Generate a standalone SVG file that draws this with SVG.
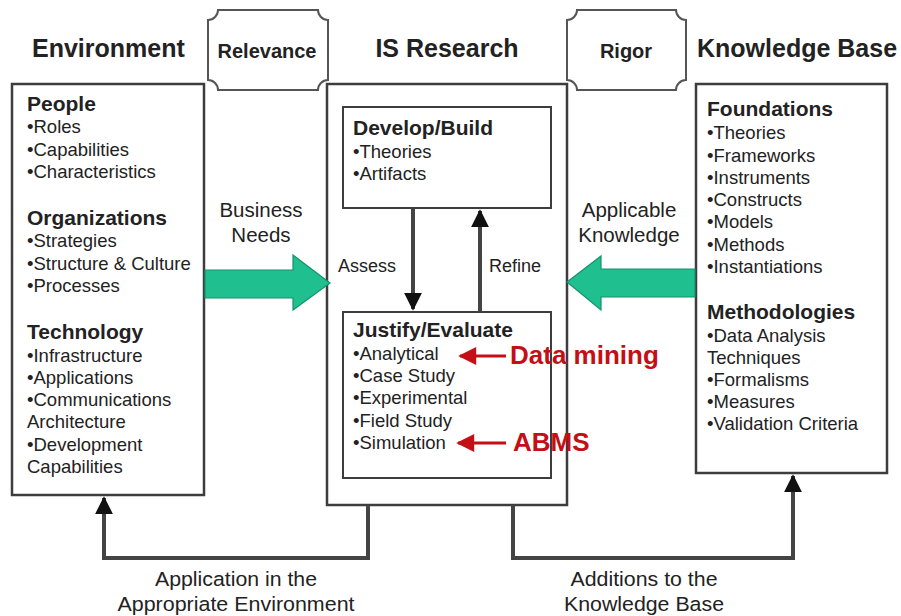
<svg xmlns="http://www.w3.org/2000/svg" width="901" height="616" viewBox="0 0 901 616">
  <defs>
    <style>
      text { font-family: "Liberation Sans", Arial, sans-serif; fill: #222; }
      .title { font-size: 25px; font-weight: bold; }
      .tag { font-size: 20px; font-weight: bold; }
      .head { font-size: 21px; font-weight: bold; }
      .item { font-size: 18.5px; }
      .lbl { font-size: 20.5px; }
      .step { font-size: 18px; }
      .foot { font-size: 20.5px; }
      .note { font-size: 26px; font-weight: bold; fill: #c40f16; }
      .box { fill: #fff; stroke: #3d3d3d; stroke-width: 2.5; }
      .inner { fill: #fff; stroke: #3d3d3d; stroke-width: 2; }
      .notch { fill: #fff; stroke: #555; stroke-width: 2; }
      .flow { fill: #1fbf8f; stroke: #13946b; stroke-width: 1.2; }
      .link { fill: none; stroke: #444; stroke-width: 4; }
      .red { fill: none; stroke: #c40f16; stroke-width: 3; }
    </style>
    <marker id="tip" viewBox="0 0 10 10" refX="9" refY="5" markerWidth="4.5" markerHeight="4.5" markerUnits="strokeWidth" orient="auto">
      <path d="M0,0 L10,5 L0,10 Z" fill="#111"/>
    </marker>
    <marker id="redtip" viewBox="0 0 10 10" refX="9" refY="5" markerWidth="7" markerHeight="6" markerUnits="strokeWidth" orient="auto">
      <path d="M0,0 L10,5 L0,10 Z" fill="#c40f16"/>
    </marker>
  </defs>

  <!-- column titles -->
  <g id="titles">
    <text class="title" x="32" y="57">Environment</text>
    <text class="title" x="447" y="57" text-anchor="middle">IS Research</text>
    <text class="title" x="697" y="57">Knowledge Base</text>
  </g>

  <!-- notched tags -->
  <g id="relevance">
    <path class="notch" d="M218,10 H318 A10,10 0 0 0 328,20 V80 A10,10 0 0 0 318,90 H218 A10,10 0 0 0 208,80 V20 A10,10 0 0 0 218,10 Z"/>
    <text class="tag" x="267" y="58" text-anchor="middle">Relevance</text>
  </g>
  <g id="rigor">
    <path class="notch" d="M577,10 H676 A10,10 0 0 0 686,20 V80 A10,10 0 0 0 676,90 H577 A10,10 0 0 0 567,80 V20 A10,10 0 0 0 577,10 Z"/>
    <text class="tag" x="626" y="58" text-anchor="middle">Rigor</text>
  </g>

  <!-- environment -->
  <g id="environment">
    <rect class="box" x="12" y="84" width="192" height="411"/>
    <text class="head" x="27" y="111">People</text>
    <text class="item" x="27" y="133">•Roles</text>
    <text class="item" x="27" y="156">•Capabilities</text>
    <text class="item" x="27" y="178">•Characteristics</text>
    <text class="head" x="27" y="225">Organizations</text>
    <text class="item" x="27" y="247">•Strategies</text>
    <text class="item" x="27" y="270">•Structure &amp; Culture</text>
    <text class="item" x="27" y="292">•Processes</text>
    <text class="head" x="27" y="339">Technology</text>
    <text class="item" x="27" y="362">•Infrastructure</text>
    <text class="item" x="27" y="384">•Applications</text>
    <text class="item" x="27" y="406">•Communications</text>
    <text class="item" x="27" y="428">Architecture</text>
    <text class="item" x="27" y="451">•Development</text>
    <text class="item" x="27" y="473">Capabilities</text>
  </g>

  <!-- IS research -->
  <g id="is-research">
    <rect class="box" x="327" y="84" width="240" height="421"/>
  </g>
  <g id="develop-build">
    <rect class="inner" x="343" y="107" width="208" height="101"/>
    <text class="head" x="353" y="135">Develop/Build</text>
    <text class="item" x="353" y="158">•Theories</text>
    <text class="item" x="353" y="180">•Artifacts</text>
  </g>
  <g id="justify-evaluate">
    <rect class="inner" x="343" y="312" width="208" height="166"/>
    <text class="head" x="353" y="337">Justify/Evaluate</text>
    <text class="item" x="353" y="360">•Analytical</text>
    <text class="item" x="353" y="382">•Case Study</text>
    <text class="item" x="353" y="404">•Experimental</text>
    <text class="item" x="353" y="427">•Field Study</text>
    <text class="item" x="353" y="449">•Simulation</text>
  </g>

  <!-- knowledge base -->
  <g id="knowledge-base">
    <rect class="box" x="696" y="84" width="191" height="389"/>
    <text class="head" x="707" y="116">Foundations</text>
    <text class="item" x="707" y="139">•Theories</text>
    <text class="item" x="707" y="162">•Frameworks</text>
    <text class="item" x="707" y="184">•Instruments</text>
    <text class="item" x="707" y="206">•Constructs</text>
    <text class="item" x="707" y="228">•Models</text>
    <text class="item" x="707" y="251">•Methods</text>
    <text class="item" x="707" y="273">•Instantiations</text>
    <text class="head" x="707" y="319">Methodologies</text>
    <text class="item" x="707" y="342">•Data Analysis</text>
    <text class="item" x="707" y="364">Techniques</text>
    <text class="item" x="707" y="386">•Formalisms</text>
    <text class="item" x="707" y="408">•Measures</text>
    <text class="item" x="707" y="430">•Validation Criteria</text>
  </g>

  <!-- connectors -->
  <g id="connectors">
    <!-- business needs / applicable knowledge -->
    <path class="flow" d="M205,270 H293 V255 L330,283 L293,310 V298 H205 Z"/>
    <path class="flow" d="M695,269 H601 V256 L567,282 L601,310 V297 H695 Z"/>
    <text class="lbl" x="261" y="217" text-anchor="middle">Business</text>
    <text class="lbl" x="261" y="242" text-anchor="middle">Needs</text>
    <text class="lbl" x="629" y="217" text-anchor="middle">Applicable</text>
    <text class="lbl" x="629" y="242" text-anchor="middle">Knowledge</text>

    <!-- assess / refine -->
    <path class="link" d="M413,209 V309" marker-end="url(#tip)"/>
    <path class="link" d="M480,311 V211" marker-end="url(#tip)"/>
    <text class="step" x="338" y="272">Assess</text>
    <text class="step" x="489" y="272">Refine</text>

    <!-- annotations -->
    <path class="red" d="M506,356 H460" marker-end="url(#redtip)"/>
    <path class="red" d="M506,443 H458" marker-end="url(#redtip)"/>
    <text class="note" x="510" y="364">Data mining</text>
    <text class="note" x="513" y="451">ABMS</text>

    <!-- outputs back to environment and knowledge base -->
    <path class="link" d="M368,505 V558 H104 V498" marker-end="url(#tip)"/>
    <path class="link" d="M513,505 V558 H793 V476" marker-end="url(#tip)"/>
    <text class="foot" x="236" y="586" text-anchor="middle" textLength="162" lengthAdjust="spacingAndGlyphs">Application in the</text>
    <text class="foot" x="236" y="611" text-anchor="middle" textLength="237" lengthAdjust="spacingAndGlyphs">Appropriate Environment</text>
    <text class="foot" x="644" y="586" text-anchor="middle" textLength="147" lengthAdjust="spacingAndGlyphs">Additions to the</text>
    <text class="foot" x="644" y="611" text-anchor="middle" textLength="160" lengthAdjust="spacingAndGlyphs">Knowledge Base</text>
  </g>
</svg>
